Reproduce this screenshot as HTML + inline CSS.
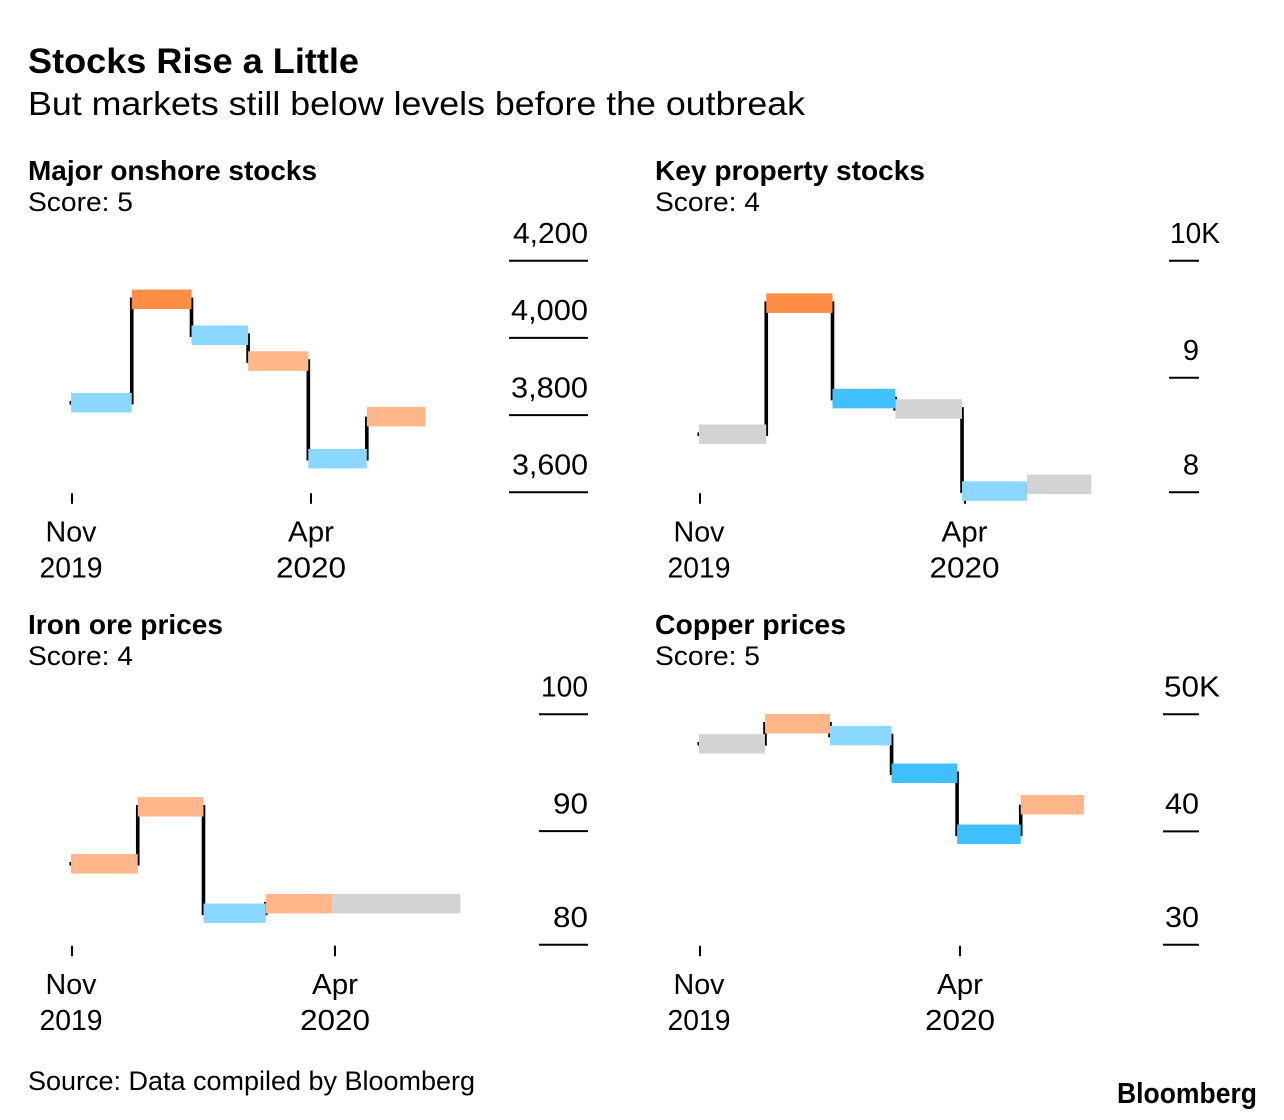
<!DOCTYPE html>
<html lang="en">
<head>
<meta charset="utf-8">
<title>Stocks Rise a Little</title>
<style>
html,body{margin:0;padding:0;background:#fff;}
svg{display:block;}
text{font-family:"Liberation Sans",sans-serif;fill:#000;}
.h1{font-size:35px;font-weight:bold;}
.h2{font-size:33px;}
.ph{font-size:28px;font-weight:bold;}
.ps{font-size:27px;}
.tk{font-size:29px;}
.src{font-size:26.5px;}
.logo{font-size:29px;font-weight:bold;}
</style>
</head>
<body>
<svg id="chart" xmlns="http://www.w3.org/2000/svg" width="1284" height="1120" viewBox="0 0 1284 1120">
  <rect width="1284" height="1120" fill="#fff"/>
  <text class="h1" x="28" y="73" textLength="331" lengthAdjust="spacingAndGlyphs">Stocks Rise a Little</text>
  <text class="h2" x="28" y="115" textLength="777" lengthAdjust="spacingAndGlyphs">But markets still below levels before the outbreak</text>

  <text class="ph" x="28" y="180" textLength="289" lengthAdjust="spacingAndGlyphs">Major onshore stocks</text>
  <text class="ps" x="28" y="211" textLength="105" lengthAdjust="spacingAndGlyphs">Score: 5</text>
  <text class="ph" x="655" y="180" textLength="270" lengthAdjust="spacingAndGlyphs">Key property stocks</text>
  <text class="ps" x="655" y="211" textLength="105" lengthAdjust="spacingAndGlyphs">Score: 4</text>
  <text class="ph" x="28" y="634" textLength="195" lengthAdjust="spacingAndGlyphs">Iron ore prices</text>
  <text class="ps" x="28" y="665" textLength="105" lengthAdjust="spacingAndGlyphs">Score: 4</text>
  <text class="ph" x="655" y="634" textLength="191" lengthAdjust="spacingAndGlyphs">Copper prices</text>
  <text class="ps" x="655" y="665" textLength="105" lengthAdjust="spacingAndGlyphs">Score: 5</text>

  <text class="src" x="28" y="1090" textLength="447" lengthAdjust="spacingAndGlyphs">Source: Data compiled by Bloomberg</text>
  <text class="logo" x="1117" y="1103" textLength="140" lengthAdjust="spacingAndGlyphs">Bloomberg</text>
</svg>
<script>
// Period boundaries, in days since 1 Nov 2019
const periodDays = [-0.6, 38, 76, 112, 150.3, 187.5, 224.5];
const xTickDays = [0, 152];
const xTickMonths = ['Nov', 'Apr'];
const xTickYears = ['2019', '2020'];

const onshoreValues = [3832, 4100, 4007, 3940, 3687, 3796];
const onshoreRatings = ['fall', 'strong-rise', 'fall', 'rise', 'fall', 'rise'];
const onshoreTicks = [3600, 3800, 4000, 4200];
const onshoreTickLabels = ['3,600', '3,800', '4,000', '4,200'];

const propertyValues = [8.51, 9.64, 8.82, 8.73, 8.01, 8.07];
const propertyRatings = ['flat', 'strong-rise', 'strong-fall', 'flat', 'fall', 'flat'];
const propertyTicks = [8, 9, 10];
const propertyTickLabels = ['8', '9', '10K'];

const ironValues = [87.15, 92.1, 82.8, 83.65, 83.65, 83.65];
const ironRatings = ['rise', 'rise', 'fall', 'rise', 'flat', 'flat'];
const ironTicks = [80, 90, 100];
const ironTickLabels = ['80', '90', '100'];

const copperValues = [47.5, 49.2, 48.2, 45.0, 39.75, 42.3];
const copperRatings = ['flat', 'rise', 'fall', 'strong-fall', 'strong-fall', 'rise'];
const copperTicks = [30, 40, 50];
const copperTickLabels = ['30', '40', '50K'];

const SVG_NS = 'http://www.w3.org/2000/svg';
const svg = document.getElementById('chart');
const ratingColor = {
  'strong-rise': '#ff8d45',
  'rise': '#ffb688',
  'flat': '#d3d3d3',
  'fall': '#8ad8ff',
  'strong-fall': '#40c0ff'
};
const BAR_HEIGHT = 19.5;
// Rendered widths of label strings in the reference typeface
const labelWidth = {
  'Nov': 51, 'Apr': 46, '2019': 63, '2020': 70,
  '3,600': 76, '3,800': 77, '4,000': 77, '4,200': 75,
  '10K': 50, '50K': 56, '40': 34, '30': 34, '90': 35, '80': 35, '100': 47
};

function make(tag, attrs, parent) {
  const el = document.createElementNS(SVG_NS, tag);
  for (const k in attrs) el.setAttribute(k, attrs[k]);
  parent.appendChild(el);
  return el;
}

function fitLabel(el, str) {
  el.textContent = str;
  if (labelWidth[str]) {
    el.setAttribute('textLength', labelWidth[str]);
    el.setAttribute('lengthAdjust', 'spacingAndGlyphs');
  }
}

function drawPanel(cfg, values, ratings, ticks, tickLabels) {
  const g = make('g', {}, svg);
  
  

  const xScale = d => cfg.xNov + (d - xTickDays[0]) * (cfg.xApr - cfg.xNov) / (xTickDays[1] - xTickDays[0]);
  const lo = Math.pow(ticks[0], cfg.power);
  const hi = Math.pow(ticks[ticks.length - 1], cfg.power);
  const yScale = v => cfg.yBottom + (Math.pow(v, cfg.power) - lo) / (hi - lo) * (cfg.yTop - cfg.yBottom);

  // x ticks and labels
  xTickDays.forEach((d, i) => {
    const x = xScale(d);
    const t = make('line', {x1: x, x2: x, y1: cfg.yBottom + 1, y2: cfg.yBottom + 11.5, stroke: '#000', 'stroke-width': 2}, g);
    
    
    const m = make('text', {x: x + cfg.labelShift[i], y: cfg.yBottom + 49.25, 'text-anchor': 'middle', 'class': 'tk'}, g);
    fitLabel(m, xTickMonths[i]);
    
    
    const yr = make('text', {x: x + cfg.labelShift[i], y: cfg.yBottom + 85.25, 'text-anchor': 'middle', 'class': 'tk'}, g);
    fitLabel(yr, xTickYears[i]);
    
    
  });

  // y ticks and labels
  ticks.forEach((v, i) => {
    const y = yScale(v);
    const l = make('line', {x1: cfg.rightLineStart, x2: cfg.right, y1: y, y2: y, stroke: '#000', 'stroke-width': 2}, g);
    
    
    const hasSuffix = tickLabels[i].endsWith('K');
    const lab = make('text', {x: cfg.right + (hasSuffix ? 21 : 0), y: y - 17.75, 'text-anchor': 'end', 'class': 'tk'}, g);
    fitLabel(lab, tickLabels[i]);
    
    
  });

  // step line, drawn under the bars
  let d = 'M' + (xScale(periodDays[0]) - 1.5) + ' ' + yScale(values[0]);
  for (let i = 0; i + 1 < values.length; i++) {
    d += ' H' + xScale(periodDays[i + 1]) + ' V' + yScale(values[i + 1]);
  }
  const path = make('path', {d: d, fill: 'none', stroke: '#000', 'stroke-width': 3.6}, g);
  
  

  // bars
  values.forEach((v, i) => {
    const x0 = xScale(periodDays[i]);
    const x1 = xScale(periodDays[i + 1]);
    const r = make('rect', {x: x0, y: yScale(v) - BAR_HEIGHT / 2, width: x1 - x0, height: BAR_HEIGHT, fill: ratingColor[ratings[i]]}, g);
    
    
  });
}

drawPanel({name: 'onshore', xNov: 72, xApr: 311, yBottom: 492.25, yTop: 260.75, power: 1, right: 588, rightLineStart: 509, labelShift: [-1, 0]},
  onshoreValues, onshoreRatings, onshoreTicks, onshoreTickLabels);
drawPanel({name: 'property', xNov: 700, xApr: 965, yBottom: 492.25, yTop: 260.75, power: 1.2, right: 1199, rightLineStart: 1169, labelShift: [-1, -0.5]},
  propertyValues, propertyRatings, propertyTicks, propertyTickLabels);
drawPanel({name: 'iron', xNov: 72, xApr: 335, yBottom: 944.75, yTop: 714.25, power: 1.25, right: 588, rightLineStart: 539, labelShift: [-1, 0]},
  ironValues, ironRatings, ironTicks, ironTickLabels);
drawPanel({name: 'copper', xNov: 700, xApr: 960, yBottom: 944.75, yTop: 714.25, power: 1.13, right: 1199, rightLineStart: 1163, labelShift: [-1, 0]},
  copperValues, copperRatings, copperTicks, copperTickLabels);
</script>
</body>
</html>
